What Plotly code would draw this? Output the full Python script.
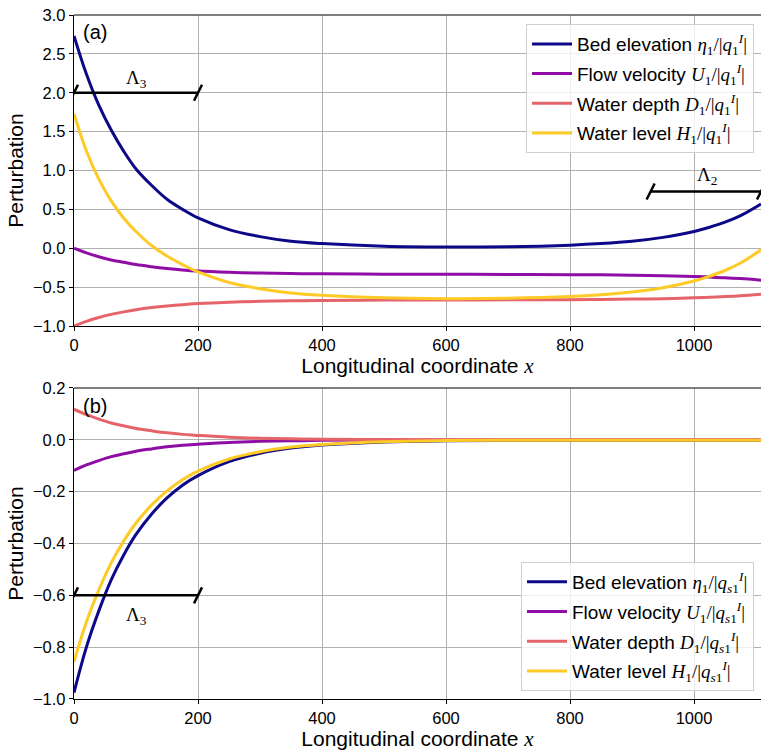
import plotly.graph_objects as go

# ---------------- data ----------------
x_pts = [0, 20, 40, 60, 80, 100, 125, 150, 175, 200, 250, 300, 350, 400,
         500, 600, 700, 800, 850, 900, 950, 1000, 1025, 1050, 1075, 1108]

# panel (a)
bed_a = [2.73, 2.24, 1.84, 1.52, 1.25, 1.02, 0.81, 0.63, 0.50, 0.39, 0.24, 0.15, 0.09, 0.06,
         0.025, 0.015, 0.02, 0.04, 0.06, 0.09, 0.14, 0.215, 0.27, 0.335, 0.42, 0.57]
vel_a = [0.0, -0.06, -0.11, -0.15, -0.18, -0.21, -0.237, -0.26, -0.279, -0.293, -0.309, -0.319,
         -0.325, -0.329, -0.333, -0.335, -0.337, -0.340, -0.342, -0.346, -0.352, -0.363, -0.37,
         -0.378, -0.39, -0.41]
dep_a = [-1.0, -0.94, -0.89, -0.85, -0.818, -0.79, -0.763, -0.742, -0.725, -0.712, -0.694, -0.683,
         -0.676, -0.672, -0.667, -0.665, -0.663, -0.661, -0.658, -0.654, -0.648, -0.637, -0.63,
         -0.621, -0.61, -0.59]
lev_a = [1.73, 1.25, 0.89, 0.61, 0.39, 0.215, 0.035, -0.10, -0.21, -0.305, -0.44, -0.52, -0.575,
         -0.605, -0.638, -0.648, -0.643, -0.621, -0.598, -0.564, -0.508, -0.422, -0.36, -0.286,
         -0.19, -0.02]

# panel (b)
bed_b = [-0.975, -0.80, -0.66, -0.54, -0.445, -0.365, -0.287, -0.224, -0.175, -0.138, -0.084,
         -0.052, -0.032, -0.02, -0.008, -0.004, -0.003, -0.003, -0.003, -0.003, -0.003, -0.003,
         -0.003, -0.003, -0.003, -0.003]
vel_b = [-0.118, -0.097, -0.080, -0.065, -0.054, -0.044, -0.035, -0.027, -0.021, -0.017, -0.010,
         -0.006, -0.004, -0.002, -0.001, -0.001, -0.001, -0.001, -0.001, -0.001, -0.001, -0.001,
         -0.001, -0.001, -0.001, -0.001]
dep_b = [0.118, 0.097, 0.080, 0.065, 0.054, 0.044, 0.035, 0.027, 0.021, 0.017, 0.010, 0.006,
         0.004, 0.002, 0.001, 0.0005, 0.0005, 0.0005, 0.0005, 0.0005, 0.0005, 0.0005, 0.0005,
         0.0005, 0.0005, 0.0005]
lev_b = [-0.857, -0.703, -0.58, -0.475, -0.391, -0.321, -0.252, -0.197, -0.154, -0.121, -0.074,
         -0.046, -0.028, -0.018, -0.007, -0.003, -0.002, -0.002, -0.002, -0.002, -0.002, -0.002,
         -0.002, -0.002, -0.002, -0.002]

x_ticks = [0, 200, 400, 600, 800, 1000]
y_ticks_a = [-1.0, -0.5, 0.0, 0.5, 1.0, 1.5, 2.0, 2.5, 3.0]
y_ticks_b = [-1.0, -0.8, -0.6, -0.4, -0.2, 0.0, 0.2]

names = ["Bed elevation", "Flow velocity", "Water depth", "Water level"]
syms = ["η", "U", "D", "H"]
colors = ["#0d0887", "#8f0da4", "#e5646a", "#fdca26"]

# scale brackets: [start, end, y]
lam3_a = [0, 200, 2.0]
lam2_a = [930, 1108, 0.73]
lam3_b = [0, 200, -0.6]

SERIF = "Liberation Serif"
SANS = "Liberation Sans"


def label(name, sym, den):
    s = f"<span style='font-family:{SERIF}'>"
    s += f"<i>{sym}</i><sub>1</sub>/|<i>q</i><sub>{den}</sub><sup><i>I</i></sup>|</span>"
    return f"{name} {s}"


fig = go.Figure()
for k, ya in enumerate([bed_a, vel_a, dep_a, lev_a]):
    fig.add_trace(go.Scatter(x=x_pts, y=ya, mode="lines", line=dict(color=colors[k], width=3, shape="spline"),
                             name=label(names[k], syms[k], "1"), legend="legend",
                             legendgroup=f"a{k}", xaxis="x", yaxis="y"))
for k, yb in enumerate([bed_b, vel_b, dep_b, lev_b]):
    fig.add_trace(go.Scatter(x=x_pts, y=yb, mode="lines", line=dict(color=colors[k], width=3, shape="spline"),
                             name=label(names[k], syms[k], "<i>s</i>1"), legend="legend2",
                             legendgroup=f"b{k}", xaxis="x2", yaxis="y2"))

axis_common = dict(showgrid=True, gridcolor="#b0b0b0", gridwidth=1, zeroline=False, automargin=False,
                   showline=True, linecolor="black", linewidth=1.3, ticks="outside", ticklen=4,
                   tickcolor="black", tickfont=dict(family=SANS, size=16.5, color="black"))

xtitle = dict(text=f"Longitudinal coordinate <span style='font-family:{SERIF}'><i>x</i></span>",
              font=dict(family=SANS, size=21, color="black"), standoff=4)
ytitle = dict(text="Perturbation", font=dict(family=SANS, size=21, color="black"), standoff=3)

leg_common = dict(bgcolor="rgba(255,255,255,0.8)", bordercolor="#d0d0d0", borderwidth=1,
                  font=dict(family=SANS, size=19, color="black"), tracegroupgap=2, itemwidth=40)

fig.update_layout(
    width=761, height=751,
    margin=dict(l=74, r=0, t=15, b=52),
    paper_bgcolor="white", plot_bgcolor="white",
    xaxis=dict(domain=[0, 1], range=[0, 1108], tickvals=x_ticks, anchor="y", title=xtitle, **axis_common),
    yaxis=dict(domain=[0.5453, 1], range=[-1, 3], tickvals=y_ticks_a, tickformat=".1f", anchor="x",
               title=ytitle, **axis_common),
    xaxis2=dict(domain=[0, 1], range=[0, 1108], tickvals=x_ticks, anchor="y2", title=xtitle, **axis_common),
    yaxis2=dict(domain=[0, 0.4547], range=[-1, 0.2], tickvals=y_ticks_b, tickformat=".1f", anchor="x2",
                title=ytitle, **axis_common),
    legend=dict(x=0.9898, xanchor="right", y=0.9868, yanchor="top", **leg_common),
    legend2=dict(x=0.9898, xanchor="right", y=0.0117, yanchor="bottom", **leg_common),
    showlegend=True,
)

shapes = []
# top spines (gray)
for xr, yr in [("x", "y"), ("x2", "y2")]:
    shapes.append(dict(type="line", xref=f"{xr} domain", yref=f"{yr} domain", x0=0, x1=1, y0=1, y1=1,
                       line=dict(color="#555555", width=1.5)))


def bracket(xr, yr, b):
    x0, x1, yv = b
    out = [dict(type="line", xref=xr, yref=yr, x0=x0, x1=x1, y0=yv, y1=yv, line=dict(color="black", width=2.5))]
    for xe in (x0, x1):
        out.append(dict(type="line", xref=xr, yref=yr, xsizemode="pixel", ysizemode="pixel",
                        xanchor=xe, yanchor=yv, x0=-4, x1=4, y0=-8, y1=8,
                        line=dict(color="black", width=2.5)))
    return out


shapes += bracket("x", "y", lam3_a)
shapes += bracket("x", "y", lam2_a)
shapes += bracket("x2", "y2", lam3_b)
fig.update_layout(shapes=shapes)

ann = []
ann.append(dict(text="(a)", xref="x domain", yref="y domain", x=0.01, y=0.946, xanchor="left", yanchor="middle",
                showarrow=False, font=dict(family=SANS, size=20, color="black")))
ann.append(dict(text="(b)", xref="x2 domain", yref="y2 domain", x=0.01, y=0.942, xanchor="left", yanchor="middle",
                showarrow=False, font=dict(family=SANS, size=20, color="black")))
for xr, yr, xv, yv, sub in [("x", "y", 100, 2.18, "3"), ("x", "y", 1021, 0.93, "2"), ("x2", "y2", 100, -0.68, "3")]:
    ann.append(dict(text=f"Λ<sub>{sub}</sub>", xref=xr, yref=yr, x=xv, y=yv, showarrow=False,
                    font=dict(family=SERIF, size=19, color="black")))
fig.update_layout(annotations=ann)

fig.write_html("out.html", config={"displayModeBar": False},
               post_script="document.body.style.margin='0';")
